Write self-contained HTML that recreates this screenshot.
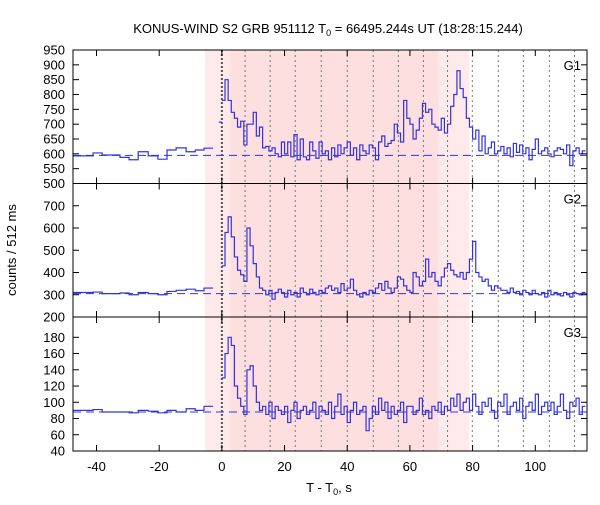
<!DOCTYPE html>
<html><head><meta charset="utf-8"><style>
body{margin:0;background:#fff;}
svg{font-family:"Liberation Sans","DejaVu Sans",sans-serif;}
</style></head><body>
<svg id="chart" width="600" height="500" viewBox="0 0 600 500" xmlns="http://www.w3.org/2000/svg"></svg>
<script>
const xTicks=[-40,-20,0,20,40,60,80,100];
const vLines=[7.4,15.4,23.4,31.7,40,48.3,56.3,64.3,72,79.9,88.2,96.2,104.5,112.5];
const shadeLight=[-5.4,2.7];
const shadeDark=[2.7,69.1];
const shadeLight2=[69.1,79];
const preEdges=[-47.5,-41.1,-38.2,-32.5,-29.6,-26.7,-23.5,-20.4,-17.5,-14.6,-11.4,-8.5,-5.7,-2.8];
const g1Pre=[593,603,596,588,580,607,593,582,613,620,607,613,619];
const g2Pre=[310,312,305,308,300,310,305,300,315,320,325,318,330];
const g3Pre=[90,91,88,88,87,90,89,87,90,88,92,90,95];
const g1=[780,850,780,740,720,690,710,630,700,700,740,660,690,620,625,610,620,600,590,640,600,640,590,665,580,650,590,580,640,610,585,640,600,610,580,620,590,630,600,620,640,595,620,580,630,610,600,630,620,580,640,660,625,635,645,700,670,640,780,720,700,650,680,720,770,740,750,700,690,680,720,670,700,760,800,880,820,790,720,690,650,680,610,660,600,620,640,600,610,625,600,620,590,635,605,630,600,620,580,615,650,600,610,620,600,590,610,620,615,600,630,560,610,620,600,610];
const g2=[430,580,650,560,470,410,390,360,600,520,440,380,330,320,300,320,280,310,325,310,290,320,300,310,290,330,310,300,325,310,300,320,310,330,340,320,330,310,350,320,330,370,320,300,290,310,300,320,310,330,350,320,360,330,310,330,380,370,340,320,310,400,380,340,360,460,380,400,360,340,380,420,440,410,390,380,400,370,400,460,540,400,380,360,370,340,320,340,330,320,320,310,330,310,315,300,320,310,300,320,305,300,310,290,320,300,310,300,295,310,300,290,310,305,300,310];
const g3=[130,160,180,170,120,105,95,85,140,145,120,100,90,95,85,100,80,95,90,85,95,75,90,100,80,90,95,85,90,100,80,95,90,85,100,80,95,110,85,95,75,90,100,85,90,95,65,80,95,85,105,90,100,80,95,85,90,100,75,95,95,85,90,105,85,90,80,95,90,100,85,95,90,105,95,110,90,100,105,90,110,95,85,100,95,105,90,80,100,95,110,85,95,100,90,105,80,95,100,90,110,85,95,100,90,100,85,95,110,90,80,100,95,105,85,95];
const baselines=[595,305,88];
const panels=[
 {name:'G1',top:50,bot:183.5,ymin:500,ymax:950,ticks:[500,550,600,650,700,750,800,850,900,950],pre:g1Pre,post:g1,blip:707},
 {name:'G2',top:183.5,bot:317,ymin:200,ymax:800,ticks:[200,300,400,500,600,700],pre:g2Pre,post:g2,blip:null},
 {name:'G3',top:317,bot:451,ymin:40,ymax:205,ticks:[40,60,80,100,120,140,160,180],pre:g3Pre,post:g3,blip:null}
];
const L=73,R=587;
const tMin=-47.5,tMax=116.5;
const X=t=>L+(t-tMin)/(tMax-tMin)*(R-L);
const svg=document.getElementById('chart');
const NS='http://www.w3.org/2000/svg';
function mk(tag,attrs,parent){const e=document.createElementNS(NS,tag);for(const k in attrs)e.setAttribute(k,attrs[k]);(parent||svg).appendChild(e);return e;}
// shading
[[shadeLight,'#feeaea'],[shadeDark,'#fddfe0'],[shadeLight2,'#feeaea']].forEach((s,i)=>{
 const r=mk('rect',{x:X(s[0][0]),y:50,width:X(s[0][1])-X(s[0][0]),height:401,fill:s[1]});
 
 
});
// vertical lines
const z=mk('line',{x1:X(0),x2:X(0),y1:50,y2:451,stroke:'#555','stroke-width':2,'stroke-dasharray':'2,2'});


vLines.forEach(t=>{
 const l=mk('line',{x1:X(t),x2:X(t),y1:50,y2:451,stroke:'#777','stroke-width':1,'stroke-dasharray':'2,3'});
 
 
});
panels.forEach((p,pi)=>{
 const Y=v=>p.bot-(v-p.ymin)/(p.ymax-p.ymin)*(p.bot-p.top);
 const g=mk('g',{});
 
 
 // baseline
 const b=mk('line',{x1:L,x2:R,y1:Y(baselines[pi]),y2:Y(baselines[pi]),stroke:'#3333dd','stroke-width':1,'stroke-dasharray':'8,5'},g);
 
 
 // pre-burst step
 let d='';
 p.pre.forEach((v,i)=>{const x0=X(preEdges[i]),x1=X(preEdges[i+1]);d+=(i?'L':'M')+x0+','+Y(v)+'L'+x1+','+Y(v);});
 const pp=mk('path',{d:d,fill:'none',stroke:'#3333dd','stroke-width':1.2},g);
 
 
 if(p.blip!==null){const bl=mk('line',{x1:X(-1),x2:X(0),y1:Y(p.blip),y2:Y(p.blip),stroke:'#3333dd','stroke-width':1.2},g);
  
  }
 d='';
 p.post.forEach((v,i)=>{const x0=X(i),x1=X(Math.min(i+1,tMax));d+=(i?'L':'M')+x0+','+Y(v)+'L'+x1+','+Y(v);});
 const sp=mk('path',{d:d,fill:'none',stroke:'#3333dd','stroke-width':1.2},g);
 
 
 // frame
 const fr=mk('rect',{x:L,y:p.top,width:R-L,height:p.bot-p.top,fill:'none',stroke:'#000','stroke-width':1},g);
 
 
 p.ticks.forEach(v=>{
  mk('line',{x1:L,x2:L+6,y1:Y(v),y2:Y(v),stroke:'#000'},g);
  mk('line',{x1:R-6,x2:R,y1:Y(v),y2:Y(v),stroke:'#000'},g);
  if(!(pi>0&&v===p.ticks[p.ticks.length-1]&&Y(v)-p.top<6)){
  const t=mk('text',{x:L-8,y:Y(v)+4.5,'text-anchor':'end','font-size':13,fill:'#000'},g);
  t.textContent=v;
  
  }
 });
 xTicks.forEach(v=>{
  mk('line',{x1:X(v),x2:X(v),y1:p.bot,y2:p.bot-6,stroke:'#000'},g);
  mk('line',{x1:X(v),x2:X(v),y1:p.top,y2:p.top+6,stroke:'#000'},g);
 });
 const nm=mk('text',{x:R-6,y:p.top+20,'text-anchor':'end','font-size':13,fill:'#000'},g);
 nm.textContent=p.name;
 
 
});
xTicks.forEach(v=>{
 const t=mk('text',{x:X(v),y:471,'text-anchor':'middle','font-size':13,fill:'#000'});
 t.textContent=v;
 
 
});
</script>
<svg style="position:absolute;left:0;top:0" width="600" height="500">
<text x="328" y="33" text-anchor="middle" font-size="13" font-family="Liberation Sans, sans-serif">KONUS-WIND S2 GRB 951112 T<tspan font-size="9" dy="3">0</tspan><tspan dy="-3"> = 66495.244s UT (18:28:15.244)</tspan></text>
<text x="0" y="0" transform="translate(16,250) rotate(-90)" text-anchor="middle" font-size="13" font-family="Liberation Sans, sans-serif">counts / 512 ms</text>
<text x="329" y="492" text-anchor="middle" font-size="13" font-family="Liberation Sans, sans-serif">T - T<tspan font-size="9" dy="3">0</tspan><tspan dy="-3">, s</tspan></text>
</svg>
</body></html>
